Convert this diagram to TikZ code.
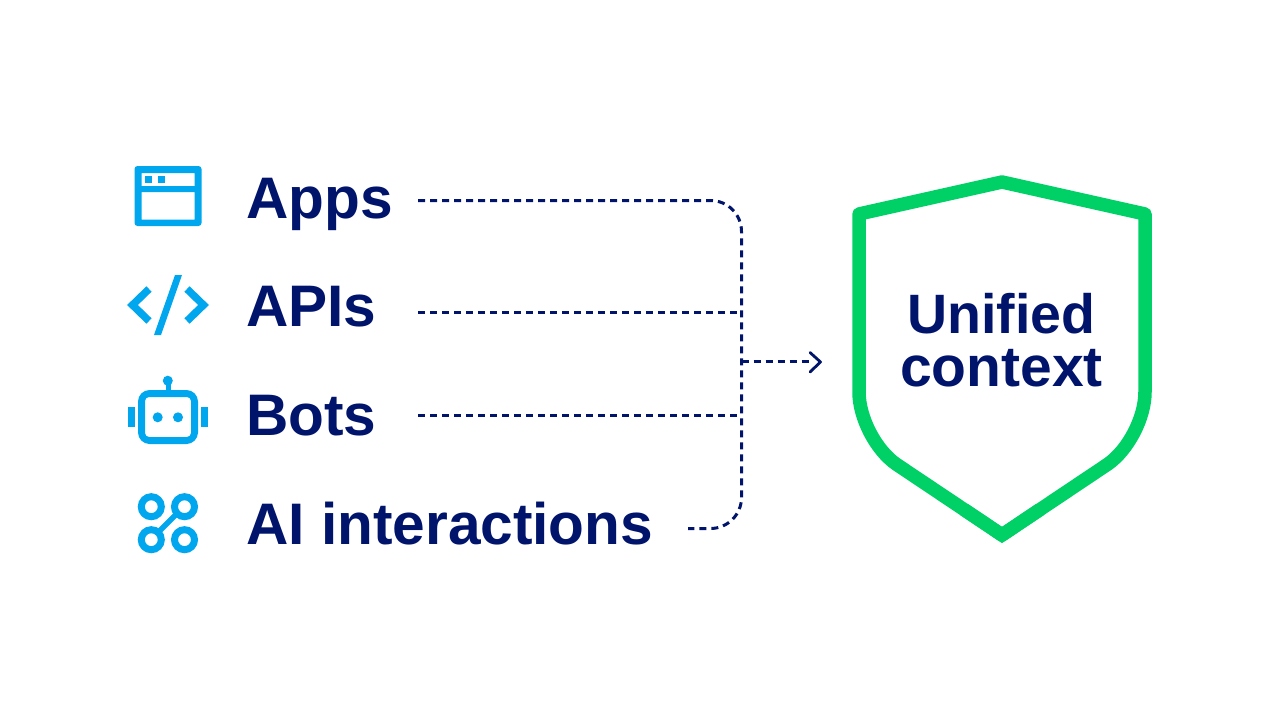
\documentclass[tikz,border=0pt]{standalone}
\usepackage{fontspec}
\setmainfont{Liberation Sans}
\definecolor{navy}{HTML}{00146B}
\definecolor{sky}{HTML}{00A7EE}
\definecolor{shield}{HTML}{00D166}
\tikzset{
  x=1pt,y=-1pt,
  label text/.style={text=navy,font=\bfseries\fontsize{58.6}{58.6}\selectfont,anchor=base west,inner sep=0pt},
  center text/.style={text=navy,font=\bfseries\fontsize{56}{56}\selectfont,anchor=base,inner sep=0pt},
  dots/.style={draw=navy,line width=3pt,dash pattern=on 7pt off 5pt},
  ico/.style={draw=sky,line width=7pt},
  icof/.style={fill=sky,draw=none},
}
\begin{document}
\begin{tikzpicture}
\useasboundingbox (0,0) rectangle (1280,720);
\fill[white] (0,0) rectangle (1280,720);
% icons
\fill[sky,even odd rule,rounded corners=3pt] (134.5,166) rectangle (201.5,226)
  [sharp corners] (141.5,173) rectangle (194.5,186) (141.5,192) rectangle (194.5,219.5);
\fill[icof] (144.5,176) rectangle (151.5,183);
\fill[icof] (157.5,176) rectangle (164.5,183);
\draw[ico,line width=7.5pt] (149,289) -- (132.5,305) -- (149,321);
\draw[ico,line width=7.5pt] (187,289) -- (203.5,305) -- (187,321);
\fill[icof] (175,275) -- (182,275) -- (161,335) -- (154,335) -- cycle;
\fill[sky,even odd rule,rounded corners=11.5pt] (138,390) rectangle (198,444)
  [rounded corners=4pt] (145,397) rectangle (191,437);
\fill[icof] (165.5,380) rectangle (170.5,392);
\fill[icof] (167.8,380.7) circle (5);
\fill[icof] (157.7,417.3) circle (5);
\fill[icof] (178,417.3) circle (5);
\fill[icof] (127.7,407.3) rectangle (134.7,427.3);
\fill[icof] (201,407.3) rectangle (208,427.3);
\draw[ico] (151.3,506.7) circle (10);
\draw[ico] (184.5,506.7) circle (10);
\draw[ico] (151.3,539.7) circle (10);
\draw[ico] (184.5,539.7) circle (10);
\draw[draw=sky,line width=5.5pt] (158,532.5) -- (177,513.5);
% labels
\node[label text] (apps) at (246,218.5) {Apps};
\node[label text] (apis) at (246,326.5) {APIs};
\node[label text] (bots) at (246,435) {Bots};
\node[label text] (ai) at (246,544) {AI interactions};
\node[center text,font=\bfseries\fontsize{55.5}{55.5}\selectfont] (u) at (1001.5,333.5) {Unified};
\node[center text,font=\bfseries\fontsize{57}{57}\selectfont] (c) at (1001.5,386) {context};
% connectors
\coordinate (jt) at (741.5,312.5);
\coordinate (jb) at (741.5,415.5);
\coordinate (jm) at (741.5,361.5);
\draw[dots] (418,200.5) -- (710.5,200.5) arc[start angle=-90,end angle=0,radius=31] -- (741.5,497.5) arc[start angle=0,end angle=90,radius=31] -- (688,528.5);
\draw[dots] (418,312.5) -- (jt);
\draw[dots] (418,415.5) -- (jb);
\draw[dots] (jm) -- (813,361.5);
\draw[draw=navy,line width=2.8pt,line cap=round,line join=round] (810,352.5) -- (820.5,362) -- (810,372);
% shield
\draw[draw=shield,line width=13.5pt,line join=round] (1002,182) -- (1145,214) -- (1145,392) .. controls (1145,418) and (1128,450) .. (1108,464) -- (1002,535) -- (896,464) .. controls (876,450) and (859,418) .. (859,392) -- (859,214) -- cycle;
\draw[draw=shield,line width=13.5pt,line join=miter,miter limit=10] (1040,509.5) -- (1002,535) -- (964,509.5);
\end{tikzpicture}
\end{document}
